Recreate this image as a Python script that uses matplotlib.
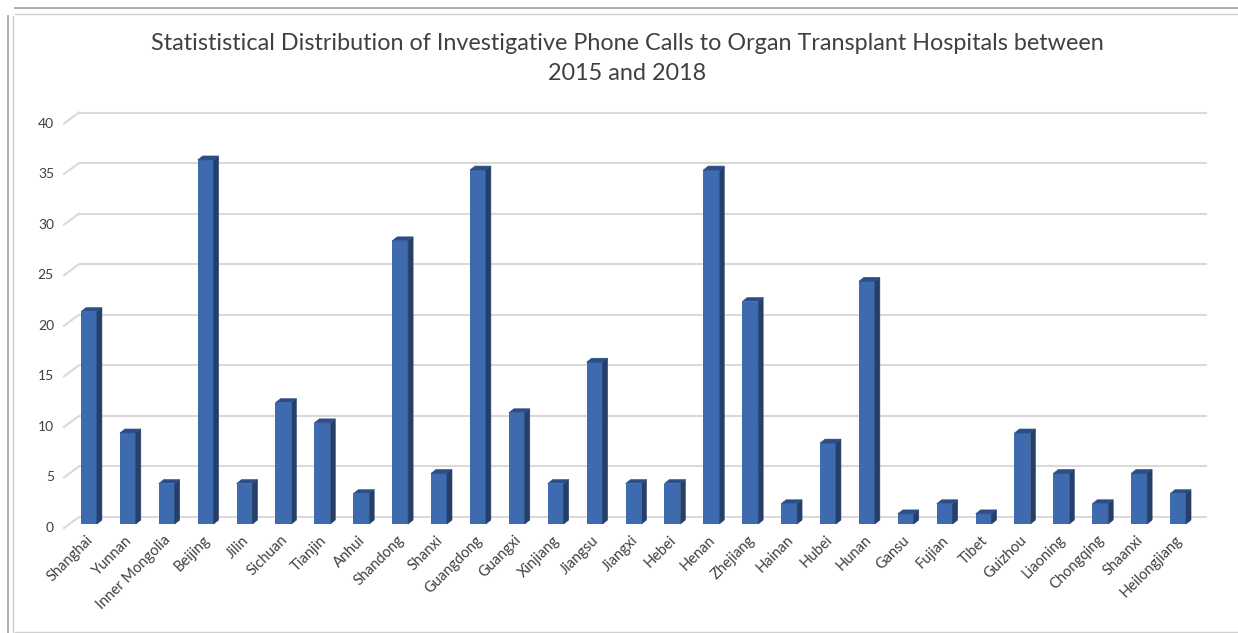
import matplotlib
matplotlib.use("Agg")
import matplotlib.pyplot as plt
from matplotlib.transforms import ScaledTranslation
from matplotlib.patches import Polygon
from matplotlib.lines import Line2D

provinces = ["Shanghai", "Yunnan", "Inner Mongolia", "Beijing", "Jilin", "Sichuan",
             "Tianjin", "Anhui", "Shandong", "Shanxi", "Guangdong", "Guangxi",
             "Xinjiang", "Jiangsu", "Jiangxi", "Hebei", "Henan", "Zhejiang",
             "Hainan", "Hubei", "Hunan", "Gansu", "Fujian", "Tibet", "Guizhou",
             "Liaoning", "Chongqing", "Shaanxi", "Heilongjiang"]
calls = [21, 9, 4, 36, 4, 12, 10, 3, 28, 5, 35, 11, 4, 16, 4, 4, 35, 22,
         2, 8, 24, 1, 2, 1, 9, 5, 2, 5, 3]
yticks = [0, 5, 10, 15, 20, 25, 30, 35, 40]
title_lines = ["Statististical Distribution of Investigative Phone Calls to Organ Transplant Hospitals between",
               "2015 and 2018"]

W, H, DPI = 1238, 633, 100
fig = plt.figure(figsize=(W / DPI, H / DPI), dpi=DPI)
plt.rcParams['font.family'] = ['Lato', 'DejaVu Sans']

# back wall geometry (pixels, y down)
left_px, right_px, top_px, bot_px = 79, 1207, 112.5, 517
fdx, fdy = -9.5, 7           # bars' front plane offset from wall (right, down)
ddx, ddy = 5, -4             # bar depth (right, down)

ax = fig.add_axes([(left_px + fdx) / W, (H - bot_px - fdy) / H,
                   (right_px - left_px) / W, (bot_px - top_px) / H])
ax.set_xlim(-0.5, len(provinces) - 0.5)
ax.set_ylim(0, 40)
ax.axis('off')


def px_off(dx, dy):
    return ScaledTranslation(dx / DPI, -dy / DPI, fig.dpi_scale_trans)


wall = ax.transData + px_off(-fdx, -fdy)
grid_c = '#D9D9D9'
for v in yticks:
    ax.plot([-0.5, len(provinces) - 0.5], [v, v], color=grid_c, lw=1.5,
            transform=wall, zorder=0, solid_capstyle='butt', clip_on=False)
    p = wall.transform([[-0.5, v]])[0]
    fig.add_artist(Line2D([p[0] / W, (p[0] - 15) / W], [p[1] / H, (p[1] - 11) / H],
                          color=grid_c, lw=1.5, transform=fig.transFigure))
    fig.text((p[0] - 25) / W, (p[1] - 11) / H, str(v), ha='right', va='center',
             fontsize=10, color='#404040')

bw = 0.41
bars = ax.bar(range(len(provinces)), calls, width=bw, color='#3E6BAF',
              edgecolor='none', zorder=3)
fig.canvas.draw()
for b in bars:
    x0, x1 = b.get_x(), b.get_x() + b.get_width()
    h = b.get_height()
    lt, rt, rb = ax.transData.transform([[x0, h], [x1, h], [x1, 0]])
    d = [ddx, -ddy]
    side = [rb, rt, rt + d, rb + d]
    top = [lt, rt, rt + d, lt + d]
    fig.add_artist(Polygon([pt / [W, H] for pt in side], closed=True,
                           transform=fig.transFigure, facecolor='#253F68',
                           edgecolor='#253F68', lw=0.4, zorder=2))
    fig.add_artist(Polygon([pt / [W, H] for pt in top], closed=True,
                           transform=fig.transFigure, facecolor='#2B4E86',
                           edgecolor='#2B4E86', lw=0.4, zorder=2))

for i, name in enumerate(provinces):
    ax.text(i, 0, name, transform=ax.transData + px_off(2, 14), rotation=45,
            ha='right', va='center', rotation_mode='anchor', fontsize=10.5,
            color='#404040')

fig.text(627 / W, 1 - 44 / H, title_lines[0], ha='center', va='center',
         fontsize=16.8, color='#404040')
fig.text(627 / W, 1 - 74 / H, title_lines[1], ha='center', va='center',
         fontsize=16.8, color='#404040')

# chart frame lines
fig.add_artist(Line2D([15 / W, 1], [1 - 8 / H, 1 - 8 / H], color='#A0A0A0', lw=1.2, transform=fig.transFigure))
fig.add_artist(Line2D([15 / W, 1], [1 - 14 / H, 1 - 14 / H], color='#D0D0D0', lw=1.0, transform=fig.transFigure))
fig.add_artist(Line2D([8 / W, 8 / W], [0, 1 - 16 / H], color='#A0A0A0', lw=1.2, transform=fig.transFigure))
fig.add_artist(Line2D([13 / W, 13 / W], [0, 1 - 16 / H], color='#D0D0D0', lw=1.0, transform=fig.transFigure))
fig.add_artist(Line2D([15 / W, 1], [1.5 / H, 1.5 / H], color='#D0D0D0', lw=1.0, transform=fig.transFigure))

fig.savefig("out.png", dpi=DPI)
